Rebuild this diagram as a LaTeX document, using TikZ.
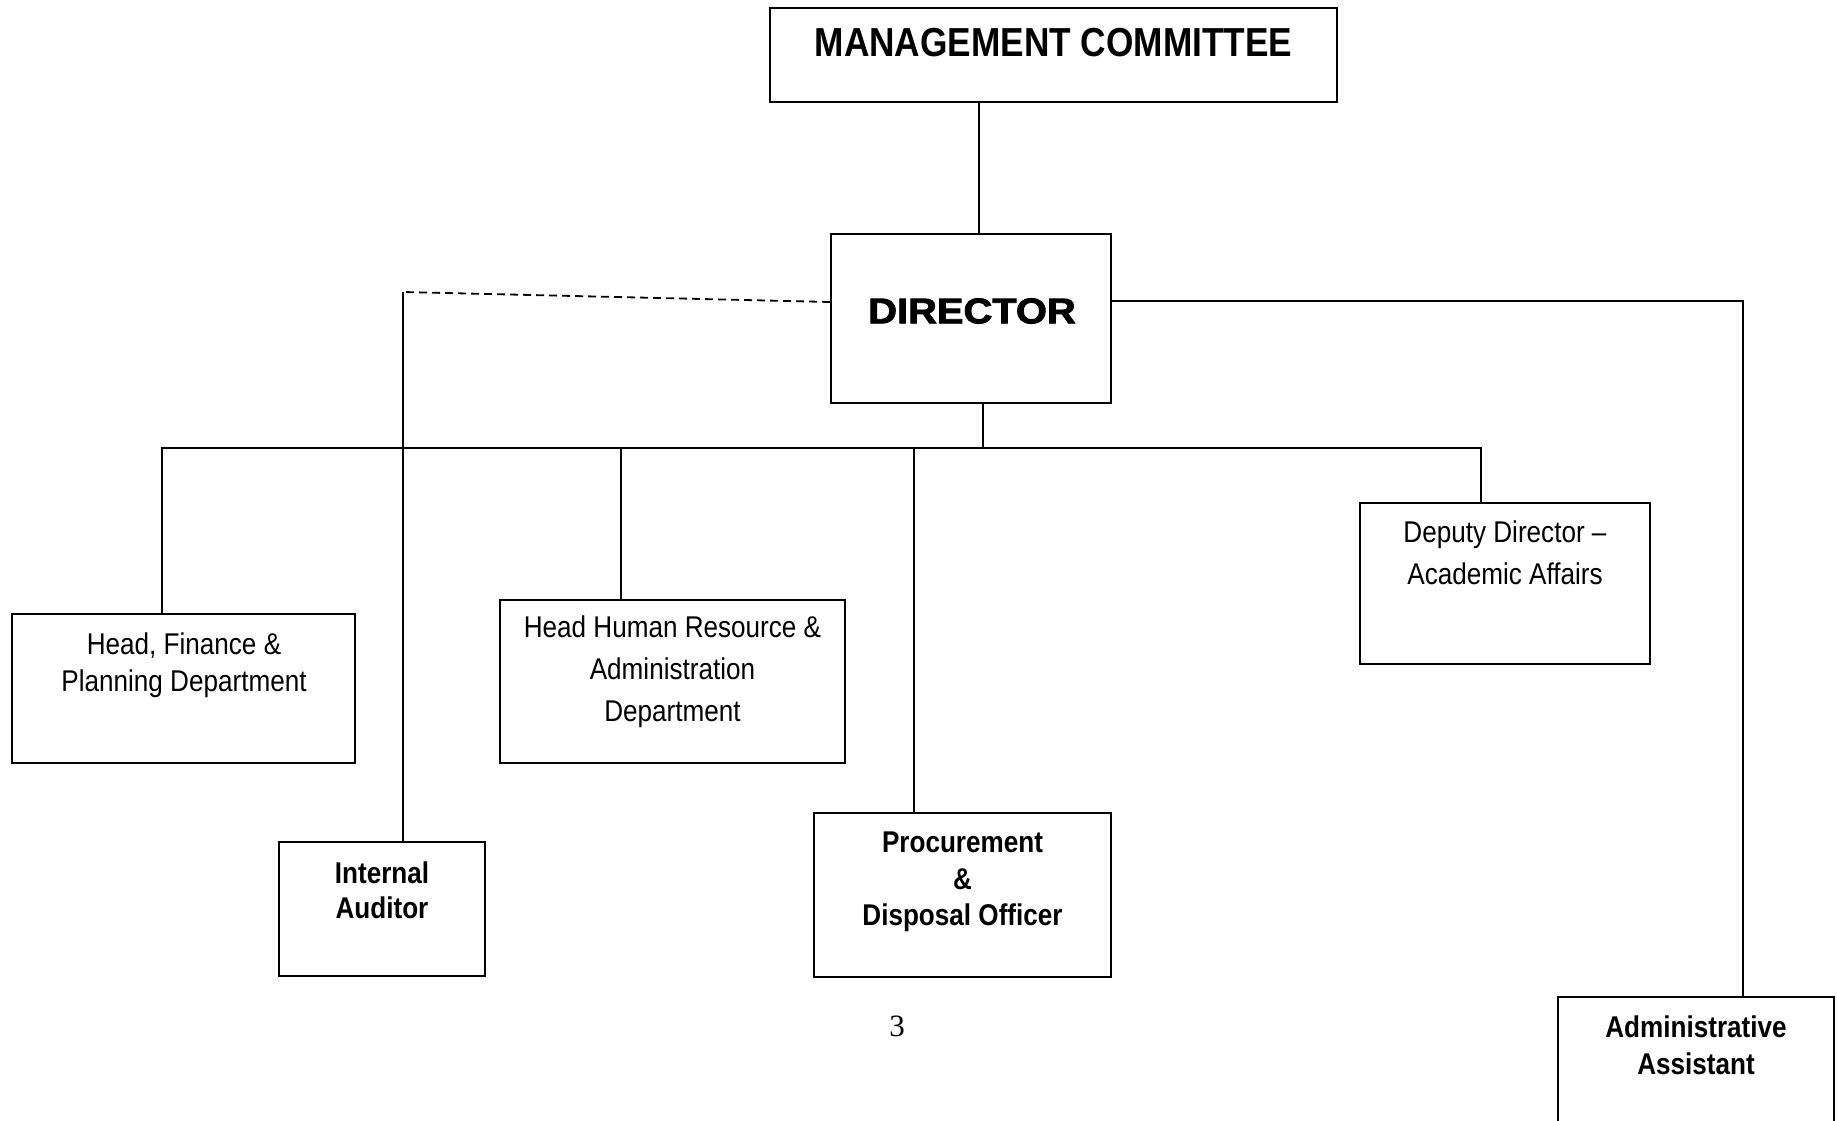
\documentclass[tikz,border=0pt]{standalone}
\usepackage{fontspec}
\setmainfont{Liberation Serif}
\newfontfamily\narrowfont[FakeStretch=0.87]{Liberation Sans}
\newfontfamily\heavyfont[FakeStretch=1.12,FakeBold=2.5]{Liberation Sans Bold}

\tikzset{
  orgbox/.style={draw, line width=1pt, inner sep=0pt},
  role/.style={font=\narrowfont\fontsize{15}{18.5}\selectfont, align=center, inner sep=0pt},
  boldrole/.style={font=\narrowfont\bfseries\fontsize{15}{18.25}\selectfont, align=center, inner sep=0pt},
  link/.style={line width=0.9pt},
  dashlink/.style={line width=0.9pt, dash pattern=on 4pt off 2.5pt}
}

\begin{document}
\begin{tikzpicture}[x=0.5pt, y=-0.5pt]
\useasboundingbox (0,0) rectangle (1837,1120);
\clip (0,0) rectangle (1837,1120);

\node[orgbox, minimum width=283.5pt, minimum height=47pt] (mc) at (1053.5,55) {};
\node[role, font=\narrowfont\bfseries\fontsize{20.25}{24}\selectfont] (mc-t) at (1053.5,43) {MANAGEMENT COMMITTEE};

\node[orgbox, minimum width=140pt, minimum height=84.5pt] (dir) at (971,318.5) {};
\node[inner sep=0pt, font=\heavyfont\fontsize{17.8}{20}\selectfont] (dir-t) at (972,311) {DIRECTOR};

\node[orgbox, minimum width=171.5pt, minimum height=74.5pt] (fin) at (183.5,688.5) {};
\node[role, font=\narrowfont\fontsize{15}{18.35}\selectfont] (fin-t) at (184,665.5) {Head, Finance \&\\Planning Department};

\node[orgbox, minimum width=172.5pt, minimum height=81.5pt] (hr) at (672.5,681.5) {};
\node[role, font=\narrowfont\fontsize{15}{21}\selectfont] (hr-t) at (672.5,672) {Head Human Resource \&\\Administration\\Department};

\node[orgbox, minimum width=145pt, minimum height=80.5pt] (dep) at (1505,583.5) {};
\node[role, font=\narrowfont\fontsize{15}{21}\selectfont] (dep-t) at (1505,553) {Deputy Director –\\Academic Affairs};

\node[orgbox, minimum width=103pt, minimum height=67pt] (aud) at (382,909) {};
\node[boldrole, font=\narrowfont\bfseries\fontsize{15}{17.5}\selectfont] (aud-t) at (382,890) {Internal\\Auditor};

\node[orgbox, minimum width=148.5pt, minimum height=82pt] (proc) at (962.5,895) {};
\node[boldrole] (proc-t) at (962.5,882) {Procurement\\\&\\Disposal Officer};

\node[orgbox, minimum width=138pt, minimum height=71.5pt] (adm) at (1696,1068.5) {};
\node[boldrole, font=\narrowfont\bfseries\fontsize{15}{18.5}\selectfont] (adm-t) at (1696,1045) {Administrative\\Assistant};

\node[inner sep=0pt, font=\fontsize{15.5}{18}\selectfont] (page) at (897,1026) {3};

\draw[link] (mc.south -| 979,0) -- (dir.north -| 979,0);

\coordinate (dash-end) at (403,292);
\draw[dashlink] (dir.west |- 0,302) -- (dash-end);
\draw[link] (dash-end) -- (aud.north -| dash-end);

\coordinate (adm-turn) at (1743,301);
\draw[link] (dir.east |- adm-turn) -- (adm-turn) -- (adm.north -| adm-turn);

\coordinate (bus-drop) at (983,448);
\coordinate (bus-l) at (162,448);
\coordinate (bus-r) at (1481,448);
\draw[link] (dir.south -| bus-drop) -- (bus-drop);
\draw[link] (fin.north -| bus-l) -- (bus-l) -- (bus-r) -- (dep.north -| bus-r);
\draw[link] (621,448) -- (hr.north -| 621,448);
\draw[link] (914,448) -- (proc.north -| 914,448);
\end{tikzpicture}
\end{document}
